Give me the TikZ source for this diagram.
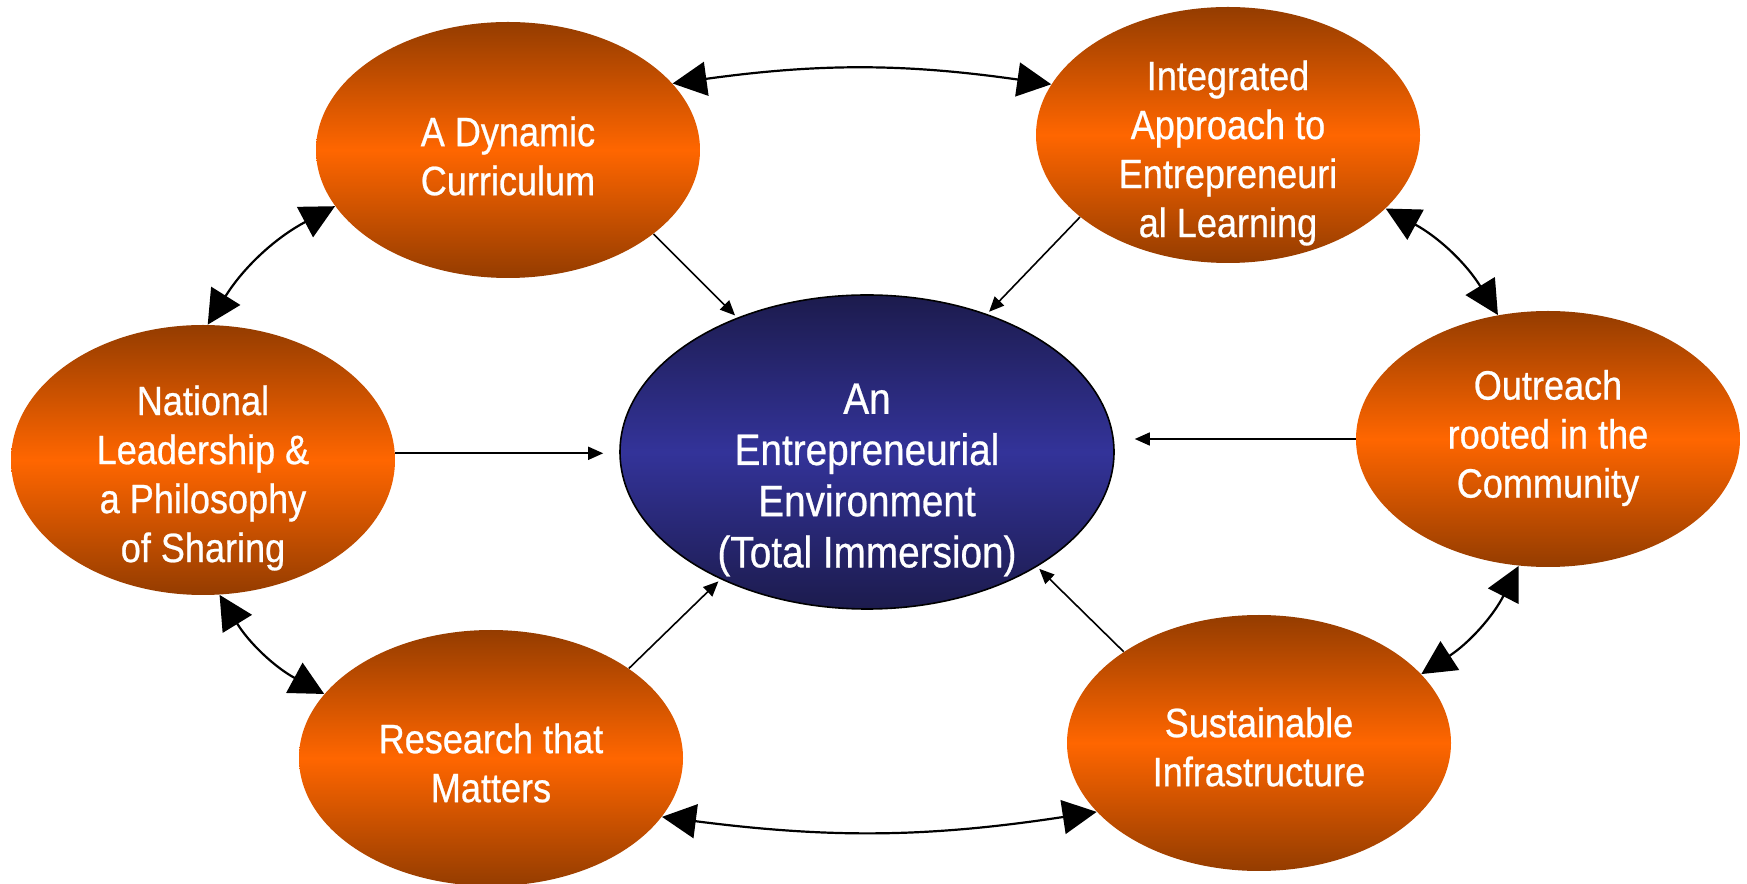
\documentclass[tikz,border=0pt]{standalone}
\usepackage{fontspec}
\setmainfont[FakeStretch=0.88,FakeBold=0.6]{Liberation Sans}
\usetikzlibrary{shapes.geometric,arrows.meta}
\definecolor{obrown}{HTML}{943C00}
\definecolor{oorange}{HTML}{FF6600}
\definecolor{bdark}{HTML}{1C1B4D}
\definecolor{bmid}{HTML}{333399}
\begin{document}
\begin{tikzpicture}[x=0.5pt,y=0.5pt,
  ball/.style={ellipse, inner sep=0pt, minimum width=192pt, minimum height=128pt,
    top color=obrown, bottom color=obrown, middle color=oorange},
  core/.style={ellipse, inner sep=0pt, minimum width=247pt, minimum height=157pt,
    draw=black, line width=0.8pt, top color=bdark, bottom color=bdark, middle color=bmid},
  lbl/.style={text=white, align=center, font=\fontsize{20.5}{24.5}\selectfont},
  clbl/.style={text=white, align=center, font=\fontsize{22}{25.6}\selectfont},
  dbl/.style={{Triangle[length=17pt,width=17pt]}-{Triangle[length=17pt,width=17pt]}, line width=1.1pt},
  feed/.style={-{Triangle[length=7.5pt,width=6.5pt]}, line width=0.8pt, shorten >=1.5pt}]
\useasboundingbox (0,0) rectangle (1747,884);

\node[ball] (cur) at (508,734) {};
\node[ball] (int) at (1228,749) {};
\node[ball, minimum height=135pt] (nat) at (203,424) {};
\node[ball] (out) at (1548,445) {};
\node[ball] (res) at (491,126) {};
\node[ball] (sus) at (1259,141) {};
\node[core] (ctr) at (867,432) {};

\node[lbl] (tcur) at (508,728) {A Dynamic\\Curriculum};
\node[lbl] (tint) at (1228,731) {Integrated\\Approach to\\Entrepreneuri\\al Learning};
\node[lbl] (tnat) at (203,406) {National\\Leadership \&\\a Philosophy\\of Sharing};
\node[lbl] (tout) at (1548,446) {Outreach\\rooted in the\\Community};
\node[lbl] (tres) at (491,121) {Research that\\Matters};
\node[lbl] (tsus) at (1259,137) {Sustainable\\Infrastructure};
\node[clbl] (tctr) at (867,404) {An\\Entrepreneurial\\Environment\\(Total Immersion)};

\draw[dbl] (cur.22) to[bend left=8] (int.164);
\draw[dbl] (cur.198) to[bend right=15] (nat.88);
\draw[dbl] (nat.277) to[bend right=15] (res.159);
\draw[dbl] (res.-19) to[bend right=8] (sus.203);
\draw[dbl] (sus.23) to[bend right=15] (out.257);
\draw[dbl] (int.-25) to[bend left=15] (out.112);

\draw[feed] (cur.-30) -- (ctr.134);
\draw[feed] (int.209) -- (ctr.49);
\draw[feed, shorten >=8pt] (nat.2) -- (nat.2 -| ctr.west);
\draw[feed, shorten >=10pt] (out.west) -- (out.west -| ctr.east);
\draw[feed] (res.33) -- (ctr.221);
\draw[feed] (sus.146) -- (ctr.-34);
\end{tikzpicture}
\end{document}
